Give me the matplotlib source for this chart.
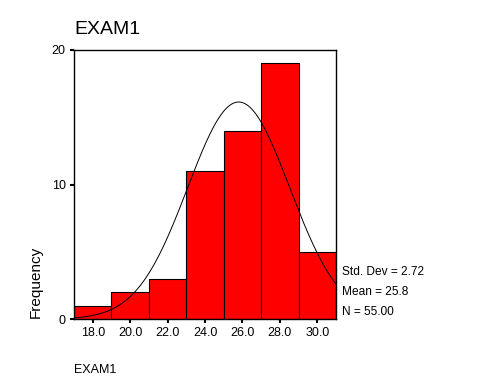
import matplotlib
matplotlib.use("Agg")
import matplotlib.pyplot as plt
import numpy as np

# histogram data
bin_centers = [18.0, 20.0, 22.0, 24.0, 26.0, 28.0, 30.0]
counts = [1, 2, 3, 11, 14, 19, 5]
bin_width = 2.0
std_dev = 2.72
mean = 25.8
n = 55

plt.rcParams['font.family'] = ['Liberation Sans', 'DejaVu Sans']

fig = plt.figure(figsize=(4.8, 3.84), dpi=100)
ax = fig.add_axes([74 / 480, 1 - 319 / 384, (336 - 74) / 480, (319 - 50) / 384])

ax.bar(bin_centers, counts, width=bin_width, color='#ff0000',
       edgecolor='black', linewidth=0.8, zorder=2)

# normal curve scaled to counts
xs = np.linspace(17, 31, 300)
ys = n * bin_width / (std_dev * np.sqrt(2 * np.pi)) * np.exp(-0.5 * ((xs - mean) / std_dev) ** 2)
ax.plot(xs, ys, color='black', linewidth=0.7, zorder=3)

ax.set_xlim(17, 31)
ax.set_ylim(0, 20)
ax.set_xticks(bin_centers)
ax.set_xticklabels([f"{c:.1f}" for c in bin_centers])
ax.set_yticks([0, 10, 20])
ax.tick_params(axis='both', labelsize=9, length=3, width=1.5, direction='out', pad=3)
for s in ax.spines.values():
    s.set_linewidth(1.0)

fig.text(74 / 480, 1 - 30 / 384, "EXAM1", fontsize=14, va='center', ha='left')
fig.text(74 / 480, 1 - 370 / 384, "EXAM1", fontsize=9, va='center', ha='left')
fig.text(36 / 480, 1 - 282 / 384, "Frequency", fontsize=11, va='center', ha='center', rotation=90)

stats = [f"Std. Dev = {std_dev:.2f}", f"Mean = {mean:.1f}", f"N = {n:.2f}"]
for i, s in enumerate(stats):
    fig.text(342 / 480, 1 - (272 + 20 * i) / 384, s, fontsize=8.6, va='center', ha='left')

fig.savefig("out.png", dpi=100)
